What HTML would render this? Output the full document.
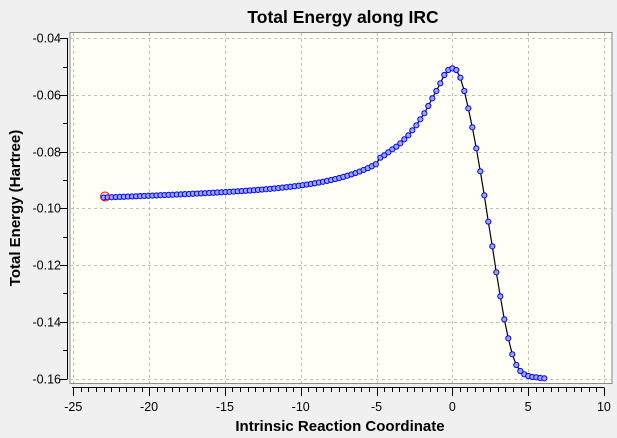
<!DOCTYPE html>
<html><head><meta charset="utf-8"><style>
body{margin:0;background:#f0f0f0;}
svg{display:block;font-family:"Liberation Sans",Arial,sans-serif;}
</style></head><body>
<svg id="s" width="617" height="438" xmlns="http://www.w3.org/2000/svg">
<rect x="0" y="0" width="617" height="438" fill="#f0f0f0"/>
<rect x="70" y="32.5" width="542" height="351" fill="#fffff5" stroke="#8a8a8a" stroke-width="1"/>
<g id="grid" stroke="#c0c0c0" stroke-dasharray="3,3" stroke-width="1"></g>
<g id="axes" stroke="#000" stroke-width="1"></g>
<g id="lbl" font-size="12.5" fill="#000"></g>
<path id="curve" fill="none" stroke="#000" stroke-width="1.2"/>
<g id="pts" fill="#9aa8e6" stroke="#0000ff" stroke-width="1"></g>
<circle cx="105" cy="196.5" r="4.5" fill="none" stroke="#ff0000" stroke-width="1"/>
<text x="343" y="23" font-size="17.5" font-weight="bold" text-anchor="middle">Total Energy along IRC</text>
<text x="340" y="431" font-size="15" font-weight="bold" text-anchor="middle">Intrinsic Reaction Coordinate</text>
<text transform="translate(20,208) rotate(-90)" font-size="15" font-weight="bold" text-anchor="middle">Total Energy (Hartree)</text>
</svg>
<script>
var NS="http://www.w3.org/2000/svg";
function X(v){return 452.3+15.16*v;}
function Y(v){return 38.3+(-0.04-v)/0.02*56.7;}
function el(p,t,a){var e=document.createElementNS(NS,t);for(var k in a)e.setAttribute(k,a[k]);document.getElementById(p).appendChild(e);return e;}
for(var v=-25;v<=10;v+=5){var x=Math.round(X(v))+0.5;
 el("grid","line",{x1:x,y1:33,x2:x,y2:383});
 var t=el("lbl","text",{x:X(v),y:411,"text-anchor":"middle"});t.textContent=v;}
for(var i=0;i<=6;i++){var v=-0.04-0.02*i;var y=Math.round(Y(v))+0.5;
 el("grid","line",{x1:70,y1:y,x2:612,y2:y});
 var t=el("lbl","text",{x:61,y:y+4,"text-anchor":"end"});t.textContent=v.toFixed(2);}
el("axes","line",{x1:67.5,y1:38,x2:67.5,y2:379});
for(var i=0;i<=12;i++){var y=Math.round(Y(-0.04-0.01*i))+0.5;el("axes","line",{x1:i%2?63:60,y1:y,x2:67.5,y2:y});}
el("axes","line",{x1:72,y1:387.5,x2:604,y2:387.5});
for(var i=0;i<=70;i++){var x=Math.round(X(-25+0.5*i))+0.5;el("axes","line",{x1:x,y1:387.5,x2:x,y2:i%10==0?396:392});}
var P=[];
for(var s=-23;s<-4.9;s+=0.268){var E=-0.0962+0.0002*(s+23)+0.0406*Math.exp(s/3.15);P.push([X(s),Y(E)]);}
var R=[[1,353],[13,346],[25,337],[37,328],[49,320],[61,310],[73,298],[85,286],[97,271],[109,256],[121,238],[133,220],[145,198],[157,175],[169,153],[181,130],[193,105],[205,90],[217,85],[229,90],[241,113],[253,153],[265,205],[277,262],[289,325],[301,394],[313,466],[325,545],[337,619],[349,697],[361,769],[373,838],[385,895],[397,943],[409,975],[421,993],[433,1003],[445,1008],[457,1011],[469,1012],[481,1014],[493,1015]];
R.forEach(function(p){P.push([380+p[0]/3,40+p[1]/3]);});
var d="M"+P.map(function(p){return p[0].toFixed(1)+","+p[1].toFixed(1);}).join("L");
document.getElementById("curve").setAttribute("d",d);
P.forEach(function(p){el("pts","circle",{cx:p[0],cy:p[1],r:2.6});});
</script>
</body></html>
